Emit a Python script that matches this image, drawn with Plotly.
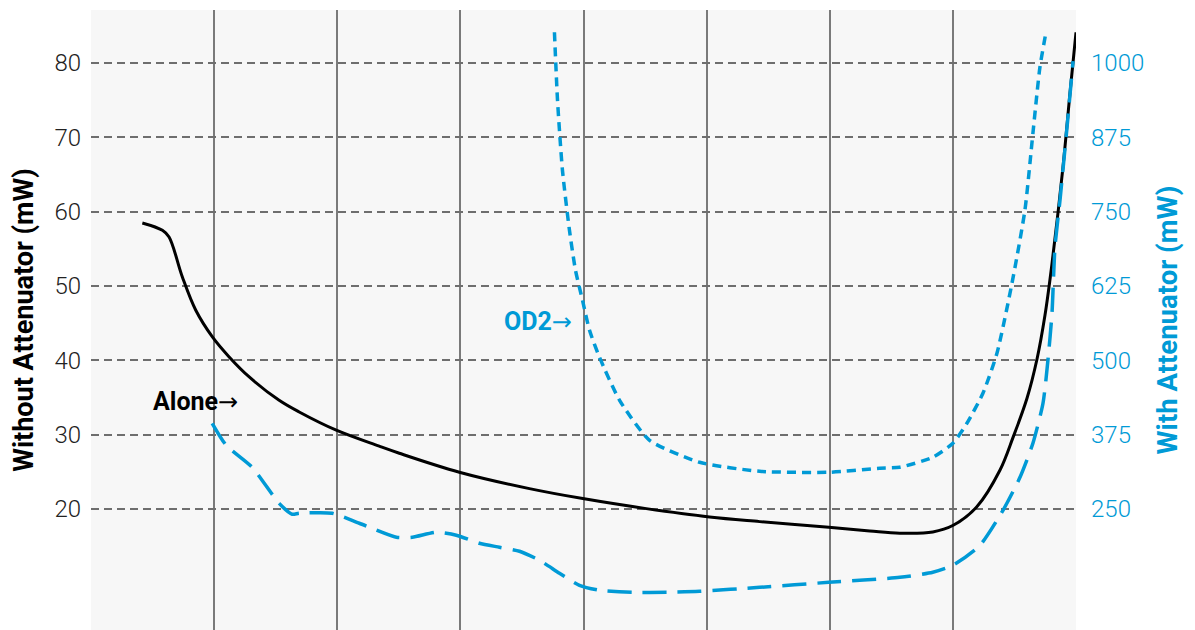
import plotly.graph_objects as go

# ---- data (x in grid units 0..8, no x labels in the reference) ----
alone_x = [0.417, 0.580, 0.634, 0.742, 0.851, 0.986, 1.122, 1.285, 1.528, 1.691, 1.992,
           2.341, 2.504, 2.992, 3.561, 3.994, 4.510, 5.024, 5.431, 5.992, 6.325, 6.569,
           6.837, 7.003, 7.193, 7.382, 7.488, 7.602, 7.683, 7.748, 7.805, 7.894,
           7.951, 8.000]
alone_y = [58.48, 57.49, 56.59, 51.21, 46.73, 43.14, 40.45, 37.76, 34.62, 33.05, 30.60,
           28.45, 27.50, 24.95, 22.74, 21.40, 20.05, 18.92, 18.30, 17.54, 17.05, 16.75,
           16.91, 17.81, 20.27, 25.21, 29.60, 34.89, 40.14, 46.06, 53.00, 65.97,
           75.93, 84.13]

att_x = [0.984, 1.098, 1.309, 1.528, 1.634, 1.691, 1.959, 2.179, 2.480, 2.610, 2.805,
         2.967, 3.154, 3.317, 3.480, 3.642, 3.805, 3.967, 4.130, 4.398, 4.675, 4.943,
         5.431, 5.992, 6.569, 6.837, 7.000, 7.220, 7.407, 7.545, 7.650, 7.732, 7.772,
         7.805, 7.829, 7.870, 7.927, 7.976]
att_y = [394.1, 357.1, 320.1, 259.5, 241.1, 242.8, 242.8, 226.0, 202.5, 202.5, 210.9,
         205.9, 192.4, 185.6, 178.9, 163.8, 141.9, 121.7, 113.3, 109.9, 109.9, 111.6,
         118.3, 126.7, 135.1, 143.5, 155.3, 188.9, 247.8, 303.3, 360.5, 427.8, 500.1,
         579.2, 690.1, 769.2, 891.9, 1003.0]

od2_x = [3.764, 3.789, 3.829, 3.886, 3.935, 3.992, 4.049, 4.130, 4.293, 4.537, 4.943,
         5.431, 5.992, 6.407, 6.569, 6.837, 7.000, 7.114, 7.244, 7.358, 7.480, 7.585,
         7.650, 7.707, 7.756]
od2_y = [1051.6, 937.2, 819.6, 718.7, 651.4, 601.0, 550.5, 505.1, 432.8, 365.5, 328.5,
         313.4, 311.7, 318.5, 320.2, 337.0, 360.5, 394.1, 444.6, 511.8, 629.6, 752.3,
         881.8, 992.7, 1051.6]

left_ticks = [20, 30, 40, 50, 60, 70, 80]
right_ticks = [250, 375, 500, 625, 750, 875, 1000]
x_grid = [1, 2, 3, 4, 5, 6, 7]

BLUE = "#009ad6"
FONT = "Roboto"
ARROW = "<span style='font-family:DejaVu Sans;font-size:24px'>→</span>"

fig = go.Figure()
fig.add_trace(go.Scatter(x=alone_x, y=alone_y, mode="lines",
                         line=dict(color="black", width=3, shape="spline", smoothing=1.0),
                         yaxis="y", showlegend=False, hoverinfo="skip"))
fig.add_trace(go.Scatter(x=att_x, y=att_y, mode="lines",
                         line=dict(color=BLUE, width=3.5, dash="24px,11px", shape="spline", smoothing=0.6),
                         yaxis="y2", showlegend=False, hoverinfo="skip"))
fig.add_trace(go.Scatter(x=od2_x, y=od2_y, mode="lines",
                         line=dict(color=BLUE, width=3.5, dash="9px,6px", shape="spline", smoothing=0.6),
                         yaxis="y2", showlegend=False, hoverinfo="skip"))

fig.add_annotation(x=0.485, y=34.4, xref="x", yref="y", xanchor="left", yanchor="middle",
                   text="<b>Alone</b>" + ARROW, showarrow=False,
                   font=dict(family=FONT, size=25, color="black"))
fig.add_annotation(x=3.339, y=45.25, xref="x", yref="y", xanchor="left", yanchor="middle",
                   text="<b>OD2</b>" + ARROW, showarrow=False,
                   font=dict(family=FONT, size=25, color=BLUE))

fig.update_layout(
    width=1187, height=622,
    margin=dict(l=83, r=119, t=2, b=0),
    paper_bgcolor="white", plot_bgcolor="#f7f7f7",
    font=dict(family=FONT),
    xaxis=dict(range=[0, 8], tickvals=x_grid, showticklabels=False, showgrid=True,
               gridcolor="#7a7a7a", gridwidth=2, zeroline=False, showline=False, ticks=""),
    yaxis=dict(range=[3.72, 87.13], tickvals=left_ticks, showgrid=True,
               gridcolor="#6e6e6e", gridwidth=1.5, griddash="8px,5px",
               zeroline=False, showline=False, ticks="", ticklabelstandoff=9,
               tickfont=dict(family=FONT, size=24, color="#222222", weight=300),
               title=dict(text="<b>Without Attenuator (mW)</b>", standoff=22,
                          font=dict(family=FONT, size=27, color="black"))),
    yaxis2=dict(range=[46.5, 1089.1], tickvals=right_ticks, overlaying="y", side="right",
                showgrid=False, zeroline=False, showline=False, ticks="", ticklabelstandoff=14,
                tickfont=dict(family=FONT, size=24, color=BLUE, weight=300),
                title=dict(text="<b>With Attenuator (mW)</b>", standoff=14,
                           font=dict(family=FONT, size=27.5, color=BLUE))),
)

fig.write_html("out.html")
